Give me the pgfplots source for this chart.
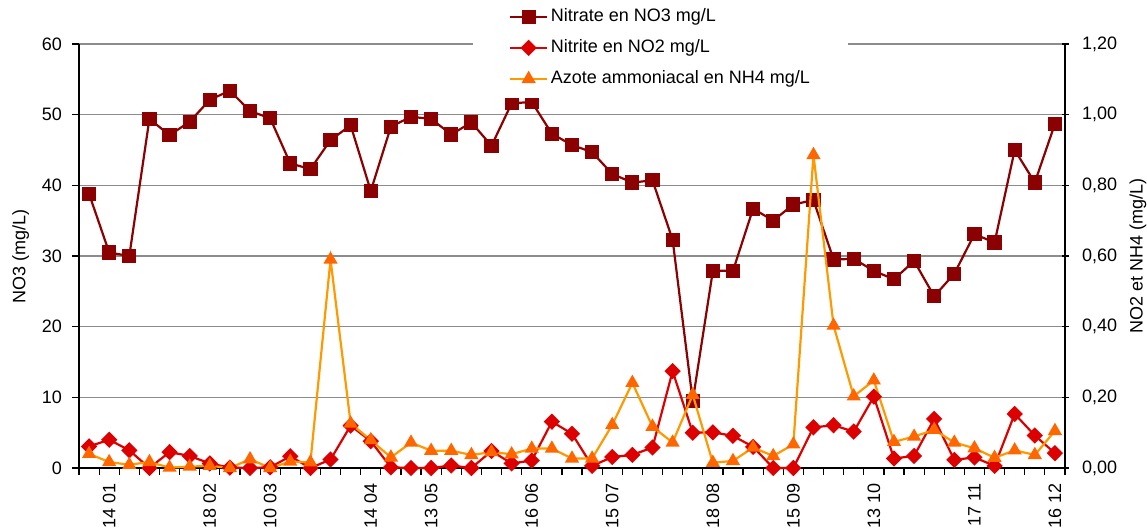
\documentclass[border=0pt]{standalone}
\usepackage{fontspec}
\setmainfont{Liberation Sans}
\usepackage{pgfplots}
\pgfplotsset{compat=1.18}
\definecolor{no3}{HTML}{8B0000}
\definecolor{no2}{HTML}{DD0000}
\definecolor{nh4line}{HTML}{FF9900}
\definecolor{nh4mark}{HTML}{FF6600}
\definecolor{gridgray}{HTML}{8C8C8C}
\pgfplotsset{
  base/.style={scale only axis,width=493pt,height=212pt,
    at={(39.5pt,31.5pt)},anchor=south west,
    xmin=-0.5,xmax=48.5,clip=false,
    font=\fontsize{9}{11}\selectfont,
    /pgf/number format/assume math mode=true,
    axis line style={black,line width=0.6pt},
    tick style={black,line width=0.6pt}},
  no3style/.style={no3,line width=1.1pt,mark=square*,mark size=3pt,mark options={solid,fill=no3}},
  no2style/.style={no2,line width=1.1pt,mark=diamond*,mark size=3.3pt,mark options={solid,fill=no2,xscale=1.33}},
  nh4style/.style={nh4line,line width=1.1pt,mark=triangle*,mark size=3pt,mark options={solid,draw=nh4mark,fill=nh4mark}}
}
\begin{document}
\begin{tikzpicture}
\begin{axis}[base,
  ymin=0,ymax=60,ytick={0,10,...,60},
  axis x line*=bottom,axis y line*=left,
  ymajorgrids,grid style={gridgray,line width=0.6pt},
  tick align=outside,major tick length=3.5pt,
  yticklabel style={xshift=-1.5pt},
  ylabel={NO3 (mg/L)},
  ylabel style={at={(axis description cs:-0.059,0.5)},anchor=center},
  xtick={-0.5,0.5,...,48.5},xticklabels={},
  extra x ticks={1,6,9,14,17,22,26,31,35,39,44,48},
  extra x tick labels={14 01,18 02,10 03,14 04,13 05,16 06,15 07,18 08,15 09,13 10,17 11,16 12},
  extra x tick style={major tick length=0pt,grid=none,
    tick label style={yshift=-4pt,rotate=90,anchor=east}}]
\addplot[no3style] coordinates {
(0,38.8) (1,30.5) (2,30.0) (3,49.4) (4,47.1) (5,49.0) (6,52.1) (7,53.4) (8,50.5) (9,49.5)
(10,43.1) (11,42.3) (12,46.4) (13,48.5) (14,39.2) (15,48.3) (16,49.7) (17,49.4) (18,47.2) (19,48.9)
(20,45.6) (21,51.6) (22,51.8) (23,47.3) (24,45.7) (25,44.7) (26,41.6) (27,40.4) (28,40.7) (29,32.3)
(30,9.5) (31,27.9) (32,27.9) (33,36.7) (34,35.0) (35,37.3) (36,37.9) (37,29.5) (38,29.6) (39,27.9)
(40,26.7) (41,29.3) (42,24.3) (43,27.5) (44,33.1) (45,31.9) (46,45.0) (47,40.4) (48,48.7)};
\end{axis}
\begin{axis}[base,
  ymin=0,ymax=1.2,ytick={0,0.2,...,1.2},
  axis y line*=right,axis x line=none,
  tick align=center,major tick length=3.5pt,
  yticklabel style={/pgf/number format/.cd,fixed,fixed zerofill,precision=2,use comma,/tikz/.cd,xshift=3.3pt},
  ylabel={NO2 et NH4 (mg/L)},
  ylabel style={at={(axis description cs:1.074,0.5)},anchor=center},
  legend style={at={(axis description cs:0.59,1)},anchor=north,yshift=23.5pt,
    fill=white,draw=none,inner xsep=18pt,inner ysep=2pt,row sep=0pt,
    font=\fontsize{9}{11}\selectfont,
    nodes={text height=6.5pt,text depth=2pt,inner ysep=3.5pt,inner xsep=1.25pt},
    legend cell align=left},
  legend image code/.code={\draw[#1,mark repeat=2,mark phase=2] plot coordinates {(0pt,0pt) (9.25pt,0pt) (18.5pt,0pt)};}]
\addlegendimage{no3style}
\addlegendentry{Nitrate en NO3 mg/L}
\addplot[no2style] coordinates {
(0,0.061) (1,0.080) (2,0.050) (3,0.000) (4,0.045) (5,0.034) (6,0.013) (7,0.001) (8,0.000) (9,0.002)
(10,0.033) (11,0.000) (12,0.024) (13,0.120) (14,0.076) (15,0.002) (16,0.000) (17,0.000) (18,0.007) (19,0.000)
(20,0.048) (21,0.013) (22,0.021) (23,0.131) (24,0.097) (25,0.006) (26,0.031) (27,0.037) (28,0.058) (29,0.274)
(30,0.100) (31,0.101) (32,0.091) (33,0.060) (34,0.000) (35,0.000) (36,0.115) (37,0.121) (38,0.103) (39,0.202)
(40,0.027) (41,0.034) (42,0.139) (43,0.023) (44,0.030) (45,0.006) (46,0.153) (47,0.092) (48,0.042)};
\addlegendentry{Nitrite en NO2 mg/L}
\addplot[nh4style] coordinates {
(0,0.040) (1,0.017) (2,0.009) (3,0.017) (4,0.001) (5,0.004) (6,0.006) (7,0.000) (8,0.025) (9,0.000)
(10,0.018) (11,0.016) (12,0.590) (13,0.126) (14,0.079) (15,0.030) (16,0.072) (17,0.049) (18,0.049) (19,0.037)
(20,0.045) (21,0.039) (22,0.055) (23,0.055) (24,0.027) (25,0.027) (26,0.122) (27,0.241) (28,0.117) (29,0.072)
(30,0.207) (31,0.015) (32,0.020) (33,0.058) (34,0.034) (35,0.067) (36,0.886) (37,0.403) (38,0.203) (39,0.248)
(40,0.074) (41,0.089) (42,0.108) (43,0.072) (44,0.056) (45,0.029) (46,0.050) (47,0.037) (48,0.105)};
\addlegendentry{Azote ammoniacal en NH4 mg/L}
\end{axis}
\pgfresetboundingbox
\path (0,0) rectangle (573.5pt,265.5pt);
\end{tikzpicture}
\end{document}
